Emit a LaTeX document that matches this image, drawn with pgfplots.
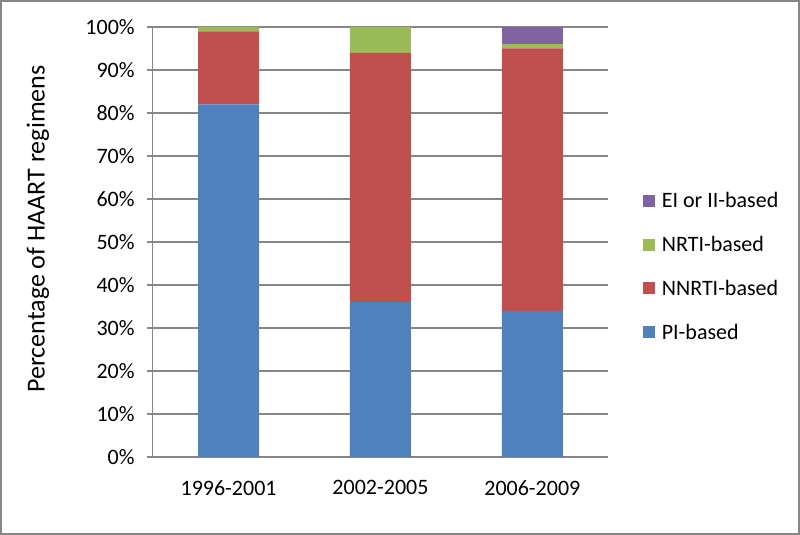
\documentclass[border=0pt]{standalone}
\usepackage{fontspec}
\setmainfont{Carlito}
\usepackage{pgfplots}
\pgfplotsset{compat=1.18}
\usepackage{pgfplotstable}

\definecolor{piblue}{HTML}{4F81BD}
\definecolor{nnred}{HTML}{C0504D}
\definecolor{nrgreen}{HTML}{9BBB59}
\definecolor{eipurple}{HTML}{8064A2}
\definecolor{framegray}{HTML}{868686}

% share of regimens (%) per period
\pgfplotstableread{
x pi nnrti nrti ei
0 82 17 1 0
1 36 58 6 0
2 34 61 1 4
}\regimens

\begin{document}
\begin{tikzpicture}[x=1pt,y=1pt]
\useasboundingbox (0,0) rectangle (600,401.25);
\draw[line width=1.5pt, framegray] (0.75,0.75) rectangle (599.25,400.5);
\begin{axis}[
    at={(114.5pt,58.5pt)}, anchor=south west,
    scale only axis,
    width=341.7pt, height=322.5pt,
    ybar stacked,
    bar width=45.75pt,
    xmin=-0.5, xmax=2.5,
    ymin=0, ymax=100,
    axis x line*=bottom, axis y line*=left,
    axis line style={framegray, line width=0.9pt, -},
    xtick={0,1,2},
    xticklabels={1996-2001, 2002-2005, 2006-2009},
    xticklabel style={yshift=-10pt},
    major x tick style={draw=none},
    extra x ticks={-0.5,0.5,1.5,2.5},
    extra x tick labels={},
    extra x tick style={major tick length=5pt, tick align=outside,
        major x tick style={framegray, line width=0.9pt}, grid=none},
    ytick={0,10,...,100},
    yticklabels={0\%,10\%,20\%,30\%,40\%,50\%,60\%,70\%,80\%,90\%,100\%},
    yticklabel style={xshift=-6pt},
    ytick style={framegray, line width=0.9pt},
    tick align=outside,
    major tick length=4pt,
    ymajorgrids,
    grid style={framegray, line width=0.9pt},
    tick label style={font=\fontsize{16.5}{19}\selectfont, black},
    ylabel={Percentage of HAART regimens},
    ylabel style={font=\fontsize{19.5}{22}\selectfont, at={(axis description cs:-0.252,0.53)}, anchor=center},
    legend style={draw=none, fill=none, at={(axis description cs:1.076,0.443)}, anchor=west,
        font=\fontsize{16.5}{19}\selectfont, row sep=16pt, inner xsep=0pt, inner ysep=0pt,
        legend cell align=left, nodes={inner xsep=5pt}},
    reverse legend,
    legend image code/.code={\fill[#1] (0pt,-4.5pt) rectangle (9pt,4.5pt);},
    every axis plot/.append style={draw=none},
]
\addplot[fill=piblue] table[x=x, y=pi] {\regimens};
\addlegendentry{PI-based}
\addplot[fill=nnred] table[x=x, y=nnrti] {\regimens};
\addlegendentry{NNRTI-based}
\addplot[fill=nrgreen] table[x=x, y=nrti] {\regimens};
\addlegendentry{NRTI-based}
\addplot[fill=eipurple] table[x=x, y=ei] {\regimens};
\addlegendentry{EI or II-based}
\end{axis}
\end{tikzpicture}
\end{document}
